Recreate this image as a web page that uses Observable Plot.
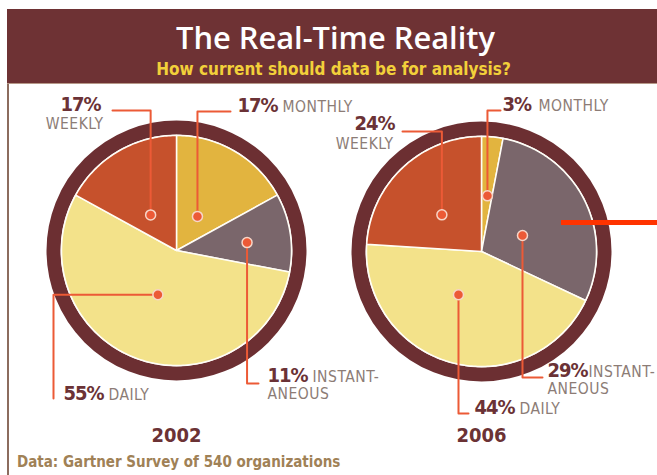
<!DOCTYPE html>
<html><head><meta charset="utf-8">
<script src="https://cdn.jsdelivr.net/npm/d3@7"></script>
<script src="https://cdn.jsdelivr.net/npm/@observablehq/plot@0.6"></script>
<style>
  html,body{margin:0;padding:0;background:#fff;}
  body{width:657px;height:475px;position:relative;overflow:hidden;}
  #header{position:absolute;left:7px;top:9px;width:650px;height:74px;background:#6E3234;border-bottom:1px solid #B69888;}
  #title{position:absolute;left:0;top:10px;width:657px;text-align:center;color:#fff;font:600 29px "Open Sans",sans-serif;white-space:nowrap;line-height:1.2;}
  #title span{display:inline-block;}
  #subtitle{position:absolute;left:3px;right:0;top:50px;text-align:center;color:#F2D03A;font:bold 17px "DejaVu Sans Condensed",sans-serif;white-space:nowrap;}
  #frame{position:absolute;left:7px;top:84px;width:2px;height:391px;background:#8C6C5E;}
  #chart{position:absolute;left:0;top:84px;}
  #note{position:absolute;left:17px;top:453px;color:#A08156;font:bold 15px "DejaVu Sans Condensed",sans-serif;white-space:nowrap;}
</style>
</head><body>
<div id="header"><div id="title"><span></span></div><div id="subtitle"></div></div>
<div id="frame"></div>
<div id="chart"></div>
<div id="note"></div>
<script>
// ---------------- data ----------------
const titleText = "The Real-Time Reality";
const subtitleText = "How current should data be for analysis?";
const sourceNote = "Data: Gartner Survey of 540 organizations";
const years = ["2002", "2006"];
const categories = ["Monthly", "Instantaneous", "Daily", "Weekly"];
const share2002 = [17, 11, 55, 17];
const share2006 = [3, 29, 44, 24];
const categoryLabelLines = [["MONTHLY"], ["INSTANT-", "ANEOUS"], ["DAILY"], ["WEEKLY"]];

// ---------------- style / layout ----------------
const sliceColors = ["#E2B43F", "#7A666B", "#F3E28A", "#C6512C"];
const ringColor = "#6C2F32";
const calloutColor = "#EC5A36";
const pctColor = "#6b3236";
const yearColor = "#6b3235";
const catColor = "#8c7c76";
const pieLayout = {"2002": {cx: 176, cy: 250}, "2006": {cx: 481, cy: 251}};
const sliceR = 115, ringR = 123, ringW = 14;
const yearLabelY = 435;
const titleWidth = 319;
// callout layout per year, in category order
const calloutLayout = {
  "2002": [
    {dotR: 40, shift: 1, route: {first: "v", y: 111, x: 230}, pct: {x: 237, y: 105, a: "start"}, lines: [{x: 282, y: 107, a: "start"}]},
    {dotR: 71, shift: 2.6, route: {first: "v", y: 383, x: 258}, pct: {x: 267, y: 375, a: "start"}, lines: [{x: 312, y: 377, a: "start"}, {x: 267, y: 394, a: "start"}]},
    {dotR: 48, shift: 3, route: {first: "h", x: 53, y: 398}, pct: {x: 63, y: 393, a: "start"}, lines: [{x: 108, y: 395, a: "start"}]},
    {dotR: 44, shift: -5.4, route: {first: "v", y: 110, x: 112}, pct: {x: 100, y: 104, a: "end"}, lines: [{x: 103, y: 124, a: "end"}]}
  ],
  "2006": [
    {dotR: 56, shift: 0.7, route: {first: "v", y: 110, x: 500}, pct: {x: 502, y: 104, a: "start"}, lines: [{x: 538, y: 106, a: "start"}]},
    {dotR: 44, shift: 5.7, route: {first: "v", y: 377, x: 542}, pct: {x: 547, y: 370, a: "start"}, lines: [{x: 588, y: 372, a: "start"}, {x: 547, y: 389, a: "start"}]},
    {dotR: 49, shift: 13.6, route: {first: "v", y: 413, x: 468}, pct: {x: 474, y: 407, a: "start"}, lines: [{x: 519, y: 409, a: "start"}]},
    {dotR: 54, shift: -4, route: {first: "v", y: 131, x: 402}, pct: {x: 394, y: 123, a: "end"}, lines: [{x: 393, y: 144, a: "end"}]}
  ]
};
const highlight = {x1: 561, x2: 657, y: 222, color: "#FF3300", width: 5};

// ---------------- build geometry from data ----------------
const shares = {"2002": share2002, "2006": share2006};
const slices = [], leaders = [], dots = [], pctRows = [], catRows = [];
const rad = d => d * Math.PI / 180;
for (const year of years) {
  const {cx, cy} = pieLayout[year];
  const vals = shares[year];
  const total = d3.sum(vals);
  let acc = 0;
  vals.forEach((v, i) => {
    const a0 = acc / total * 360, a1 = (acc + v) / total * 360;
    acc += v;
    const id = year + "-" + categories[i];
    slices.push({id, category: categories[i], x: cx, y: cy});
    const n = Math.max(2, Math.ceil(a1 - a0));
    for (let k = 0; k <= n; k++) {
      const a = rad(a0 + (a1 - a0) * k / n);
      slices.push({id, category: categories[i], x: cx + sliceR * Math.sin(a), y: cy - sliceR * Math.cos(a)});
    }
    const L = calloutLayout[year][i];
    const am = rad((a0 + a1) / 2 + L.shift);
    const dx = cx + L.dotR * Math.sin(am), dy = cy - L.dotR * Math.cos(am);
    dots.push({x: dx, y: dy});
    const r = L.route;
    const corner = r.first === "v" ? {x: dx, y: r.y} : {x: r.x, y: dy};
    const end = {x: r.x, y: r.y};
    [{x: dx, y: dy}, corner, end].forEach(p => leaders.push({id, ...p}));
    pctRows.push({x: L.pct.x, y: L.pct.y, a: L.pct.a, text: v + "%"});
    categoryLabelLines[i].forEach((t, j) => catRows.push({x: L.lines[j].x, y: L.lines[j].y, a: L.lines[j].a, text: t}));
  });
}
const yearRows = years.map(y => ({year: y, x: pieLayout[y].cx, y: yearLabelY}));

const textFont = "'DejaVu Sans Condensed', sans-serif";
const pctStyle = {fill: pctColor, fontSize: 20, fontWeight: "bold", fontFamily: textFont};
const catStyle = {fill: catColor, fontSize: 15.5, fontFamily: textFont};
const chart = Plot.plot({
  width: 657, height: 366,
  marginTop: 0, marginRight: 0, marginBottom: 0, marginLeft: 0,
  x: {domain: [0, 657], range: [0, 657], axis: null},
  y: {domain: [84, 450], range: [0, 366], axis: null},
  color: {domain: categories, range: sliceColors},
  style: {background: "transparent", overflow: "visible"},
  marks: [
    Plot.dot(years, {x: y => pieLayout[y].cx, y: y => pieLayout[y].cy, r: ringR, stroke: ringColor, strokeWidth: ringW, fill: "none"}),
    Plot.line(slices, {x: "x", y: "y", z: "id", fill: "category", stroke: "#FFFDF6", strokeWidth: 1.5, curve: "linear-closed"}),
    Plot.line(leaders, {x: "x", y: "y", z: "id", stroke: calloutColor, strokeWidth: 2}),
    Plot.dot(dots, {x: "x", y: "y", r: 5, fill: calloutColor, stroke: "#F7D6C8", strokeWidth: 1.5}),
    Plot.ruleY([highlight], {x1: "x1", x2: "x2", y: "y", stroke: highlight.color, strokeWidth: highlight.width}),
    Plot.text(pctRows.filter(d => d.a === "start"), {x: "x", y: "y", text: "text", textAnchor: "start", ...pctStyle}),
    Plot.text(pctRows.filter(d => d.a === "end"), {x: "x", y: "y", text: "text", textAnchor: "end", ...pctStyle}),
    Plot.text(catRows.filter(d => d.a === "start"), {x: "x", y: "y", text: "text", textAnchor: "start", ...catStyle}),
    Plot.text(catRows.filter(d => d.a === "end"), {x: "x", y: "y", text: "text", textAnchor: "end", ...catStyle}),
    Plot.text(yearRows, {x: "x", y: "y", text: "year", fill: yearColor, fontSize: 20, fontWeight: "bold", fontFamily: textFont})
  ]
});
// letter spacing: tight for percentages, slightly open for category words
d3.select(chart).selectAll("g").each(function() {
  const f = (this.getAttribute("fill") || "").toLowerCase();
  if (f === catColor) d3.select(this).selectAll("text").style("letter-spacing", "0.5px");
  else if (f === pctColor) d3.select(this).selectAll("text").style("letter-spacing", "-1px");
});
document.getElementById("chart").appendChild(chart);
const tspan = document.querySelector("#title span");
tspan.textContent = titleText;
const w = tspan.getBoundingClientRect().width;
if (w > 0) tspan.style.fontSize = (29 * titleWidth / w).toFixed(2) + "px";
document.getElementById("subtitle").textContent = subtitleText;
document.getElementById("note").textContent = sourceNote;
</script>
</body></html>
